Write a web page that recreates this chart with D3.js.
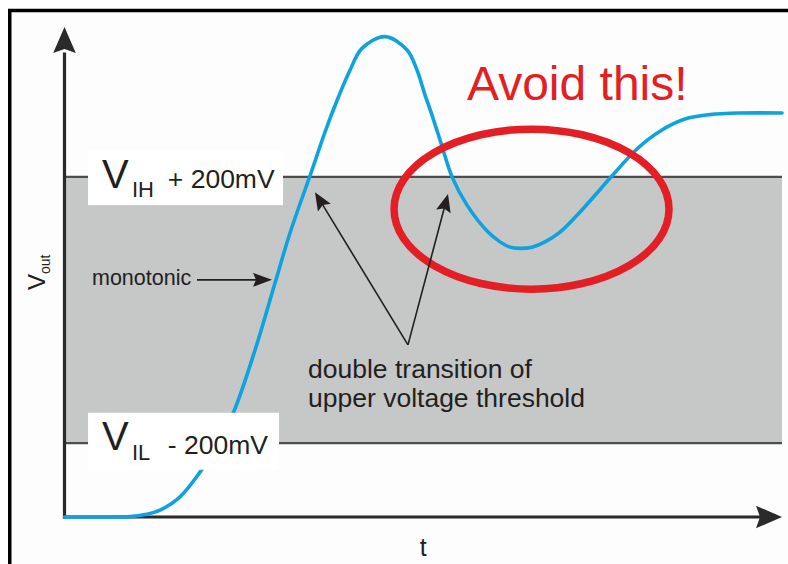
<!DOCTYPE html>
<html>
<head>
<meta charset="utf-8">
<script src="https://cdn.jsdelivr.net/npm/d3@7"></script>
<style>
  html, body { margin: 0; padding: 0; background: #ffffff; }
  svg { display: block; }
  text { font-family: "Liberation Sans", Arial, Helvetica, sans-serif; fill: #231f20; }
</style>
</head>
<body>
<svg id="chart" width="788" height="564"></svg>
<script>
// ---- data ----
const timeValues = [0, 4.95, 9.13, 11.22, 13.31, 16.1, 18.88, 21.25, 23.62, 26.55, 29.34, 31.43, 34.5, 36.31,
  38.12, 39.79, 41.46, 44.67, 47.74, 49.13, 50.24, 51.08, 52.47, 54.01, 56.1, 58.89, 60.7,
  62.09, 63.48, 65.16, 66.97, 69.06, 71.85, 76.45, 79.78, 82.99, 86.48, 89.96, 94.15, 100];
const voutValues = [0, 0, 0.001, 0.006, 0.017, 0.05, 0.111, 0.178, 0.262, 0.413, 0.579, 0.703, 0.859, 0.953,
  1.037, 1.106, 1.16, 1.189, 1.156, 1.106, 1.045, 1.002, 0.926, 0.842, 0.772, 0.708, 0.681,
  0.668, 0.665, 0.668, 0.681, 0.705, 0.755, 0.847, 0.911, 0.955, 0.985, 0.996, 1.0, 1.0];
const thresholdMain = ["V", "V"];
const thresholdSub = ["IH", "IL"];
const thresholdMargin = ["+ 200mV", "- 200mV"];
const thresholdValues = [0.842, 0.183];
const axisLabels = { x: "t", y: "V", ySub: "out" };
const annotationTexts = ["monotonic", "double transition of", "upper voltage threshold", "Avoid this!"];

// ---- scales ----
const svg = d3.select("#chart");
const W = 788, H = 564;
const x = d3.scaleLinear().domain([0, 100]).range([64.5, 782]);
const y = d3.scaleLinear().domain([0, 1]).range([517, 113]);

// frame
svg.append("rect").attr("x", 0).attr("y", 0).attr("width", W).attr("height", H).attr("fill", "#ffffff");
svg.append("rect").attr("x", 9.75).attr("y", 10.5).attr("width", W + 20).attr("height", H + 20)
  .attr("fill", "#fdfdfd").attr("stroke", "#000").attr("stroke-width", 3.5);

// threshold band
const hiY = y(thresholdValues[0]), loY = y(thresholdValues[1]);
svg.append("rect").attr("x", x(0)).attr("y", hiY).attr("width", x(100) - x(0)).attr("height", loY - hiY)
  .attr("fill", "#c6c7c7");
thresholdValues.forEach(v => {
  svg.append("line").attr("x1", x(0)).attr("x2", x(100)).attr("y1", y(v)).attr("y2", y(v))
    .attr("stroke", "#4d4d4d").attr("stroke-width", 2.2);
});

// axes
const axisColor = "#2a2a2a";
svg.append("line").attr("x1", x(0)).attr("x2", x(0)).attr("y1", y(0) + 1.5).attr("y2", y(1.15))
  .attr("stroke", axisColor).attr("stroke-width", 3.2);
svg.append("line").attr("x1", x(0) - 1.5).attr("x2", x(97)).attr("y1", y(0)).attr("y2", y(0))
  .attr("stroke", axisColor).attr("stroke-width", 3.2);
function arrowHead(tx, ty, ang, len, half, notch, color) {
  const c = Math.cos(ang), s = Math.sin(ang);
  const bx = tx - c * len, by = ty - s * len;
  const p1 = [bx - s * half, by + c * half];
  const p2 = [bx + s * half, by - c * half];
  const pn = [tx - c * (len - notch), ty - s * (len - notch)];
  svg.append("path").attr("d", `M${tx},${ty}L${p1[0]},${p1[1]}L${pn[0]},${pn[1]}L${p2[0]},${p2[1]}Z`)
    .attr("fill", color);
}
arrowHead(x(0), y(1.213), -Math.PI / 2, 26, 11.3, 4, axisColor);
arrowHead(x(100), y(0), 0, 26, 11.3, 4, axisColor);

// curve
const pts = timeValues.map((t, i) => [t, voutValues[i]]);
const line = d3.line().x(d => x(d[0])).y(d => y(d[1])).curve(d3.curveCatmullRom.alpha(0.5));
svg.append("path").datum(pts).attr("d", line).attr("fill", "none")
  .attr("stroke", "#0ea2df").attr("stroke-width", 3.6).attr("stroke-linejoin", "round").attr("stroke-linecap", "round");

// red ellipse
svg.append("ellipse").attr("cx", x(65.09)).attr("cy", y(0.762))
  .attr("rx", x(65.09 + 19.16) - x(65.09)).attr("ry", y(0.762) - y(0.762 + 0.198))
  .attr("fill", "none").attr("stroke", "#e31e24").attr("stroke-width", 7.5);

// threshold label boxes
const boxes = [
  { t0: 3.28, t1: 30.45, v0: 0.908, v1: 0.772 },
  { t0: 3.28, t1: 29.9, v0: 0.258, v1: 0.117 }
];
const baseMain = [0.815, 0.166];
const baseSub = [0.792, 0.141];
const baseMargin = [0.815, 0.155];
boxes.forEach((b, i) => {
  svg.append("rect").attr("x", x(b.t0)).attr("y", y(b.v0)).attr("width", x(b.t1) - x(b.t0))
    .attr("height", y(b.v1) - y(b.v0)).attr("fill", "#ffffff");
  svg.append("text").attr("x", x(5.22)).attr("y", y(baseMain[i])).attr("font-size", 40).text(thresholdMain[i]);
  svg.append("text").attr("x", x(9.4)).attr("y", y(baseSub[i])).attr("font-size", 22).text(thresholdSub[i]);
  svg.append("text").attr("x", x(14.4)).attr("y", y(baseMargin[i])).attr("font-size", 26.5).text(thresholdMargin[i]);
});

// axis titles
svg.append("text").attr("x", x(50.0)).attr("y", 556).attr("text-anchor", "middle").attr("font-size", 25)
  .text(axisLabels.x);
const yl = svg.append("text").attr("transform", "translate(45,290) rotate(-90)").attr("font-size", 24);
yl.append("tspan").text(axisLabels.y);
yl.append("tspan").attr("font-size", 14).attr("dy", 5).text(axisLabels.ySub);

// annotations
const annColor = "#231f20";
function annArrow(t0, v0, t1, v1, len, half) {
  const x0 = x(t0), y0 = y(v0), x1 = x(t1), y1 = y(v1);
  const ang = Math.atan2(y1 - y0, x1 - x0);
  svg.append("line").attr("x1", x0).attr("y1", y0)
    .attr("x2", x1 - Math.cos(ang) * (len - 4)).attr("y2", y1 - Math.sin(ang) * (len - 4))
    .attr("stroke", annColor).attr("stroke-width", 1.6);
  arrowHead(x1, y1, ang, len, half, 3, annColor);
}
svg.append("text").attr("x", x(3.83)).attr("y", y(0.574)).attr("font-size", 21.5).text(annotationTexts[0]);
annArrow(18.47, 0.587, 28.92, 0.587, 19, 7);
annArrow(47.87, 0.426, 34.91, 0.804, 18, 7.5);
annArrow(47.87, 0.426, 53.45, 0.7995, 18, 7.5);
svg.append("text").attr("x", x(33.94)).attr("y", y(0.345)).attr("font-size", 26.5).text(annotationTexts[1]);
svg.append("text").attr("x", x(33.94)).attr("y", y(0.2735)).attr("font-size", 26.5).text(annotationTexts[2]);
svg.append("text").attr("x", x(56.1)).attr("y", y(1.032)).attr("font-size", 48).style("fill", "#e31e24")
  .text(annotationTexts[3]);
</script>
</body>
</html>
